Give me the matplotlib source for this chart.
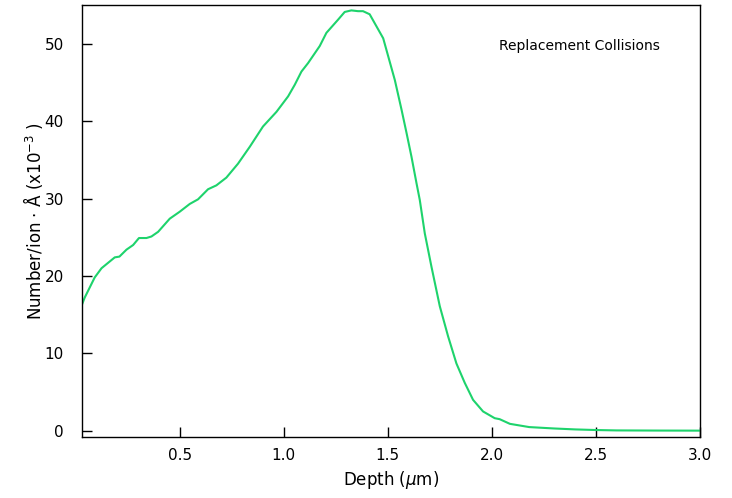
import matplotlib
matplotlib.use("Agg")
import matplotlib.pyplot as plt

# depth (um) and replacement collisions (x1e-3 per ion per Angstrom)
depth = [0.03, 0.043, 0.091, 0.124, 0.1875, 0.21, 0.244, 0.276, 0.304, 0.34, 0.364,
         0.396, 0.452, 0.5, 0.548, 0.588, 0.636, 0.676, 0.724, 0.78, 0.837, 0.9,
         0.965, 1.021, 1.053, 1.085, 1.117, 1.173, 1.205, 1.261, 1.293, 1.325,
         1.357, 1.381, 1.413, 1.478, 1.534, 1.566, 1.59, 1.614, 1.638, 1.654,
         1.678, 1.71, 1.75, 1.79, 1.83, 1.87, 1.91, 1.958, 2.014, 2.038, 2.087,
         2.18, 2.3, 2.4, 2.5, 2.6, 2.8, 3.0]
collisions = [16.3, 17.2, 19.8, 21.0, 22.4, 22.5, 23.4, 24.0, 24.9, 24.9, 25.1,
              25.7, 27.4, 28.3, 29.3, 29.9, 31.2, 31.7, 32.7, 34.5, 36.7, 39.3,
              41.2, 43.2, 44.7, 46.4, 47.5, 49.7, 51.4, 53.1, 54.1, 54.3,
              54.2, 54.2, 53.8, 50.7, 45.3, 41.5, 38.5, 35.4, 32.0, 29.8,
              25.5, 21.2, 16.1, 12.2, 8.7, 6.2, 4.0, 2.5, 1.63, 1.5, 0.9,
              0.48, 0.3, 0.18, 0.1, 0.05, 0.03, 0.02]

fig = plt.figure(figsize=(7.32, 4.98), dpi=100)
ax = fig.add_axes([0.112, 0.1225, 0.844, 0.8675])

ax.plot(depth, collisions, color="#1ed36c", lw=1.5)

ax.set_xlim(0.03, 3.0)
ax.set_ylim(-0.8, 55)
ax.set_xticks([0.5, 1.0, 1.5, 2.0, 2.5, 3.0])
ax.set_yticks([0, 10, 20, 30, 40, 50])
ax.tick_params(direction="in", length=7, width=1, labelsize=11)
ax.tick_params(axis="x", pad=8)
ax.tick_params(axis="y", pad=13)

ax.set_xlabel(r"Depth ($\mu$m)", fontsize=12)
ax.set_ylabel(r"Number/ion $\cdot$ Å (x10$^{-3}$ )", fontsize=12, labelpad=0)

ax.text(0.806, 0.905, "Replacement Collisions", transform=ax.transAxes,
        ha="center", va="center", fontsize=10)

for s in ax.spines.values():
    s.set_linewidth(1)

fig.savefig("out.png", dpi=100)
